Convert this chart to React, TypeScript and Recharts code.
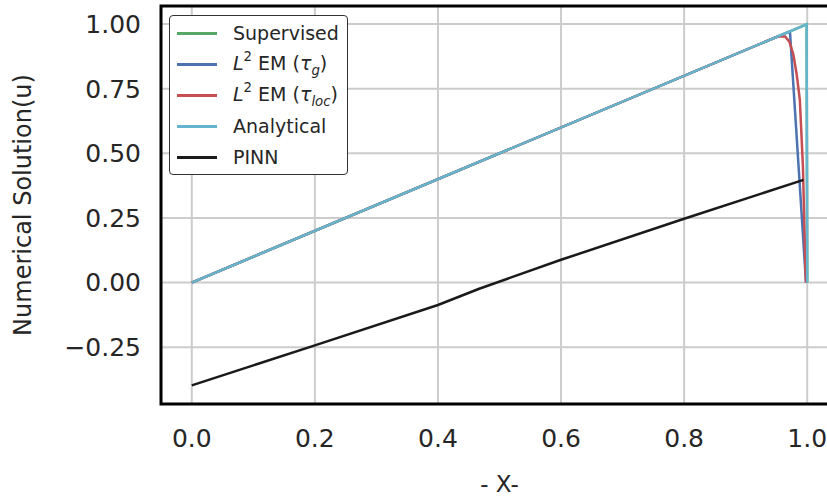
import React from "react";
import {
  LineChart,
  Line,
  XAxis,
  YAxis,
  CartesianGrid,
  Legend,
  ReferenceArea,
} from "recharts";

// series: x positions and u values
const supervisedX = [0, 0.999, 1.0];
const supervisedU = [0, 0.999, 0];

const emGlobalX = [0, 0.97, 0.972, 0.998];
const emGlobalU = [0, 0.97, 0.968, 0];

const emLocalX = [0, 0.95, 0.958, 0.964, 0.971, 0.9776, 0.983, 0.988, 0.993, 0.995, 0.997, 0.998];
const emLocalU = [0, 0.95, 0.953, 0.952, 0.932, 0.881, 0.803, 0.707, 0.449, 0.255, 0.062, 0];

const analyticalX = [0, 0.999, 1.0];
const analyticalU = [0, 0.999, 0];

const pinnX = [0, 0.2, 0.4, 0.467, 0.6, 0.8, 0.994];
const pinnU = [-0.398, -0.243, -0.087, -0.024, 0.088, 0.247, 0.397];

const xTicks = [0, 0.2, 0.4, 0.6, 0.8, 1.0];
const yTicks = [-0.25, 0, 0.25, 0.5, 0.75, 1.0];

const xDomain: [number, number] = [-0.05, 1.05];
const yDomain: [number, number] = [-0.47, 1.07];

const pts = (xs: number[], us: number[]) => xs.map((x, i) => ({ x, u: us[i] }));

const font = "DejaVu Sans";
const textColor = "#262626";

const legendRows = [
  { color: "#55a868", label: <>Supervised</> },
  {
    color: "#4c72b0",
    label: (
      <>
        <i>L</i>
        <sup style={{ fontSize: "0.7em", position: "relative", top: "-0.1em" }}>2</sup> EM (<i>τ</i>
        <sub style={{ fontSize: "0.7em" }}>
          <i>g</i>
        </sub>
        )
      </>
    ),
  },
  {
    color: "#c44e52",
    label: (
      <>
        <i>L</i>
        <sup style={{ fontSize: "0.7em", position: "relative", top: "-0.1em" }}>2</sup> EM (<i>τ</i>
        <sub style={{ fontSize: "0.7em" }}>
          <i>loc</i>
        </sub>
        )
      </>
    ),
  },
  { color: "#64b5cd", label: <>Analytical</> },
  { color: "#1a1a1a", label: <>PINN</> },
];

function LegendBox() {
  return (
    <div
      style={{
        width: 177,
        height: 156,
        border: "1.5px solid #333",
        borderRadius: 4,
        background: "#fff",
        paddingTop: 2,
        boxSizing: "content-box",
        fontFamily: font,
        fontSize: 19,
        color: textColor,
      }}
    >
      {legendRows.map((r, i) => (
        <div key={i} style={{ height: 31, display: "flex", alignItems: "center", lineHeight: 1 }}>
          <div style={{ width: 40, height: 2.5, background: r.color, marginLeft: 7, marginRight: 16 }} />
          <span style={{ whiteSpace: "nowrap" }}>{r.label}</span>
        </div>
      ))}
    </div>
  );
}

export default function App() {
  return (
    <div
      style={{
        position: "fixed",
        left: 0,
        top: 0,
        width: 827,
        height: 496,
        overflow: "hidden",
        background: "#fff",
      }}
    >
      <LineChart width={850} height={496} margin={{ top: 6, right: 12, bottom: 0, left: 0 }}>
        <CartesianGrid stroke="#cccccc" strokeWidth={2} />
        <XAxis
          type="number"
          dataKey="x"
          domain={xDomain}
          allowDataOverflow
          ticks={xTicks}
          tickFormatter={(v: number) => v.toFixed(1)}
          height={92}
          axisLine={false}
          tickLine={false}
          tickSize={10}
          tickMargin={15}
          tick={{ fontSize: 25, fill: textColor, fontFamily: font }}
          label={{
            value: "- X-",
            position: "insideBottom",
            offset: 4,
            style: { fontSize: 23, fill: textColor, fontFamily: font },
          }}
        />
        <YAxis
          type="number"
          domain={yDomain}
          allowDataOverflow
          ticks={yTicks}
          tickFormatter={(v: number) => (v < 0 ? "\u2212" + Math.abs(v).toFixed(2) : v.toFixed(2))}
          width={161}
          axisLine={false}
          tickLine={false}
          tickSize={10}
          tickMargin={10}
          tick={{ fontSize: 25, fill: textColor, fontFamily: font }}
          label={{
            value: "Numerical Solution(u)",
            angle: -90,
            position: "insideLeft",
            offset: 22,
            style: { fontSize: 24, fill: textColor, fontFamily: font, textAnchor: "middle" },
          }}
        />
        <Line data={pts(supervisedX, supervisedU)} dataKey="u" stroke="#55a868" strokeWidth={2.5} dot={false} isAnimationActive={false} />
        <Line data={pts(emGlobalX, emGlobalU)} dataKey="u" stroke="#4c72b0" strokeWidth={2.5} dot={false} isAnimationActive={false} />
        <Line data={pts(emLocalX, emLocalU)} dataKey="u" stroke="#c44e52" strokeWidth={2.5} dot={false} isAnimationActive={false} />
        <Line data={pts(analyticalX, analyticalU)} dataKey="u" stroke="#64b5cd" strokeWidth={2.5} dot={false} isAnimationActive={false} />
        <Line data={pts(pinnX, pinnU)} dataKey="u" stroke="#1a1a1a" strokeWidth={2.5} dot={false} isAnimationActive={false} />
        <ReferenceArea
          x1={xDomain[0]}
          x2={xDomain[1]}
          y1={yDomain[0]}
          y2={yDomain[1]}
          fill="none"
          fillOpacity={0}
          stroke="#000"
          strokeWidth={3}
          ifOverflow="visible"
        />
        <Legend
          layout="vertical"
          align="center"
          verticalAlign="middle"
          content={() => <LegendBox />}
          wrapperStyle={{ left: 169, top: 15, width: 181, height: 160 }}
        />
      </LineChart>
    </div>
  );
}
